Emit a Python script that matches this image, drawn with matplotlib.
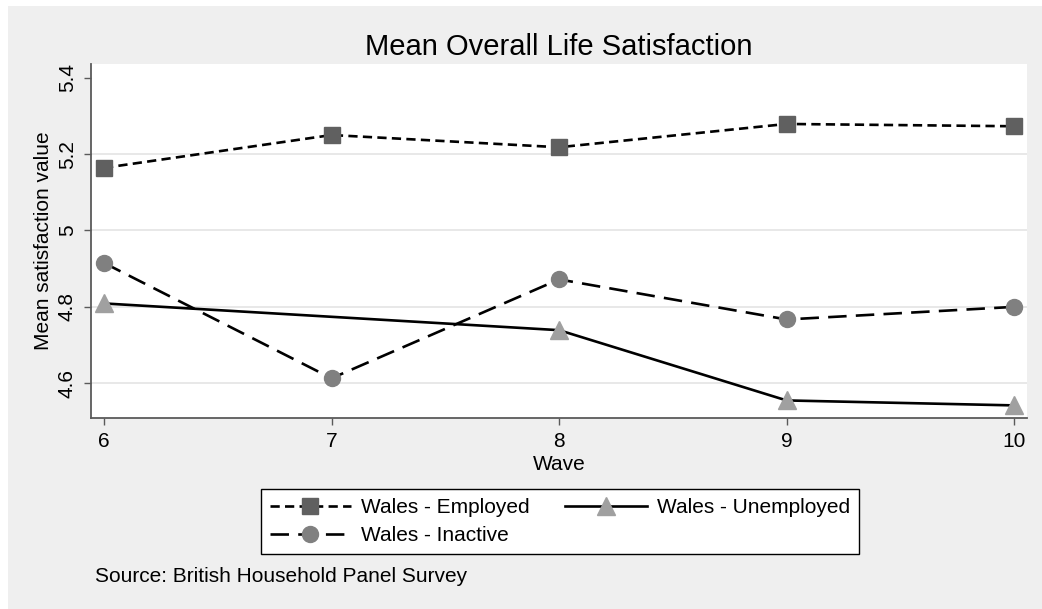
import matplotlib
matplotlib.use("Agg")
import matplotlib.pyplot as plt
from matplotlib.patches import Rectangle

plt.rcParams['font.family'] = ['Liberation Sans', 'DejaVu Sans']

# data
waves = [6, 7, 8, 9, 10]
employed = [5.164, 5.250, 5.218, 5.279, 5.273]
inactive = [4.915, 4.613, 4.872, 4.767, 4.800]
# no unemployed value for wave 7
waves_unemp = [6, 8, 9, 10]
unemployed = [4.809, 4.739, 4.555, 4.542]

yticks = [4.6, 4.8, 5.0, 5.2, 5.4]
ytick_labels = ["4.6", "4.8", "5", "5.2", "5.4"]

fig = plt.figure(figsize=(10.42, 6.09), dpi=100, facecolor='white')
# stata style gray background, behind the axes
fig.patches.append(Rectangle((8/1042, 0), 1, 1 - 6/609, transform=fig.transFigure,
                             facecolor='#efefef', edgecolor='none', zorder=-10))

ax = fig.add_axes([90.7/1042, 1 - 418/609, (1027.3 - 90.7)/1042, (418 - 64)/609])
ax.set_facecolor('white')

# gridlines (none at top tick)
for v in yticks[:-1]:
    ax.axhline(v, color='#e6e6e6', lw=1.3, zorder=1)

l_emp, = ax.plot(waves, employed, color='black', lw=1.9, dashes=(3.5, 2),
                 marker='s', ms=12, mfc='#606060', mec='#606060', zorder=3,
                 label='Wales - Employed')
l_unemp, = ax.plot(waves_unemp, unemployed, color='black', lw=1.9, linestyle='-',
                   marker='^', ms=13, mfc='#a0a0a0', mec='#a0a0a0', zorder=3,
                   label='Wales - Unemployed')
l_inact, = ax.plot(waves, inactive, color='black', lw=1.9, dashes=(7, 3.5),
                   marker='o', ms=11.5, mfc='#808080', mec='#808080', zorder=3,
                   label='Wales - Inactive')

ax.set_xlim(5.9415, 10.058)
ax.set_ylim(4.509, 5.436)
ax.set_xticks(waves)
ax.set_xticklabels([str(w) for w in waves])
ax.set_yticks(yticks)
ax.set_yticklabels(ytick_labels)

for s in ['top', 'right']:
    ax.spines[s].set_visible(False)
for s in ['left', 'bottom']:
    ax.spines[s].set_color('#5a5a5a')
    ax.spines[s].set_linewidth(1.3)

ax.tick_params(axis='both', direction='out', length=5, width=1, color='#5a5a5a',
               labelsize=15, pad=5)
ax.tick_params(axis='y', labelrotation=90)
for lab in ax.get_yticklabels():
    lab.set_va('center')

ax.set_title("Mean Overall Life Satisfaction", fontsize=21, pad=6.5)

ax.set_xlabel("Wave", fontsize=15)
ax.xaxis.set_label_coords(0.5, (418 - 464)/354)
ax.xaxis.label.set_va('center')
ax.set_ylabel("Mean satisfaction value", fontsize=15)
ax.yaxis.set_label_coords((43.3 - 90.7)/936.6, 0.5)
ax.yaxis.label.set_va('center')

leg = fig.legend(handles=[l_emp, l_inact, l_unemp], ncol=2, loc='center',
                 bbox_to_anchor=(560/1042, 1 - 521.5/609), fontsize=15,
                 numpoints=1, handlelength=3.9, handletextpad=0.5,
                 columnspacing=1.7, labelspacing=0.45, borderpad=0.4,
                 fancybox=False, frameon=True)
leg.get_frame().set_edgecolor('black')
leg.get_frame().set_linewidth(1.0)
leg.get_frame().set_facecolor('white')
leg.get_frame().set_alpha(1)

fig.text(95/1042, 1 - 577/609, "Source: British Household Panel Survey",
         fontsize=15, va='center', ha='left')

fig.savefig("out.png", dpi=100, facecolor=fig.get_facecolor())
plt.close(fig)
